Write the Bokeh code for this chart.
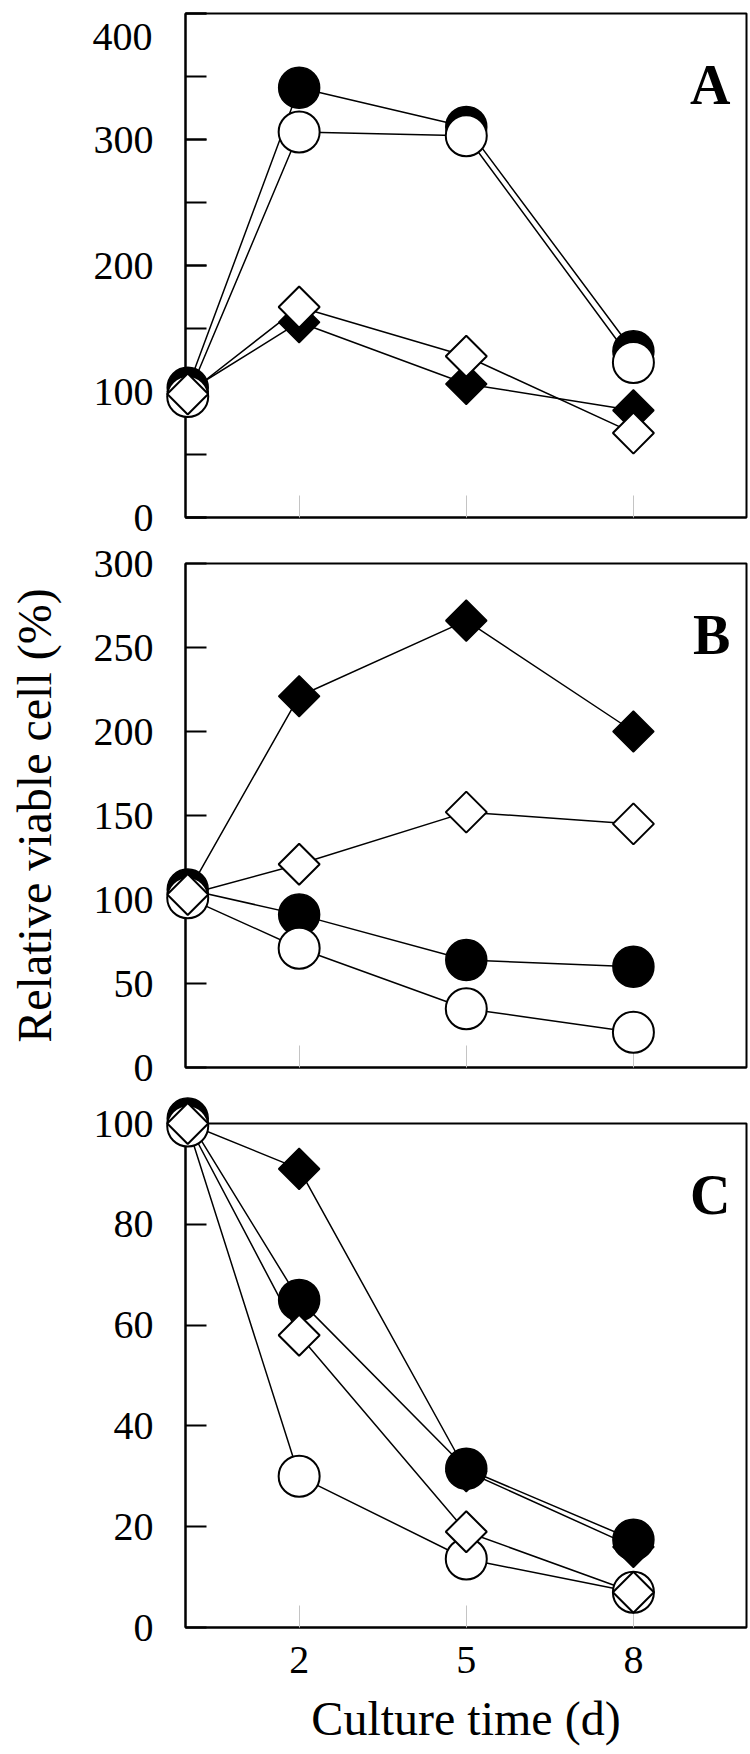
import math
from bokeh.plotting import figure
from bokeh.layouts import column
from bokeh.models import FixedTicker, SingleIntervalTicker, Label, Range1d
from bokeh.core.properties import value
from bokeh.embed import file_html
from bokeh.resources import INLINE

# ---------------- data ----------------
days = [0, 2, 5, 8]
x_ticks = [2, 5, 8]

# Panel A
a_filled_circle = [103, 341, 310, 132]
a_open_circle = [96, 306, 303, 123]
a_filled_diamond = [100, 155, 106, 85]
a_open_diamond = [98, 167, 128, 67]

# Panel B
b_filled_circle = [106, 91, 64, 60]
b_open_circle = [101, 71, 35, 21]
b_filled_diamond = [104, 221, 266, 200]
b_open_diamond = [103, 121, 152, 145]

# Panel C
c_filled_circle = [101, 65, 31.5, 17.4]
c_open_circle = [99.5, 30, 13.6, 7]
c_filled_diamond = [100, 91, 31, 16]
c_open_diamond = [100, 58, 19, 7]

y_label = "Relative viable cell (%)"
x_label = "Culture time (d)"

FONT = "Liberation Serif"
FRAME_H = 504
FRAME_W = 561
X_START, X_END = -0.04, 10.03


def make_panel(letter, fc, oc, fd, od, y_end, interval, minor, top, bottom,
               show_x_labels=False, show_y_title=False, top_label_drop=0):
    height = top + FRAME_H + bottom
    p = figure(width=748, height=height, output_backend="svg",
               toolbar_location=None, x_range=Range1d(X_START, X_END),
               y_range=Range1d(0, y_end),
               min_border_left=185, min_border_right=2,
               min_border_top=top, min_border_bottom=bottom)
    p.background_fill_color = "white"
    p.border_fill_color = "white"
    p.outline_line_color = "black"
    p.outline_line_width = 2
    p.xgrid.grid_line_color = None
    p.ygrid.grid_line_color = None

    # y axis
    ya = p.yaxis[0]
    ya.ticker = SingleIntervalTicker(interval=interval, num_minor_ticks=minor)
    ya.axis_line_width = 2
    ya.axis_line_color = "black"
    ya.major_tick_in = 21
    ya.major_tick_out = 0
    ya.major_tick_line_width = 2
    ya.minor_tick_in = 21
    ya.minor_tick_out = 0
    ya.minor_tick_line_width = 2
    ya.major_label_text_font = FONT
    ya.major_label_text_font_size = "40px"
    ya.major_label_text_color = "black"
    ya.major_label_standoff = 32
    if top_label_drop:
        # the top tick label sits a little lower than its tick (as in the original)
        ya.major_label_overrides = {y_end: ""}
        px_per_x = FRAME_W / (X_END - X_START)
        px_per_y = FRAME_H / y_end
        p.text(x=[X_START - 33 / px_per_x],
               y=[y_end - top_label_drop / px_per_y],
               text=[str(y_end)], text_font=value(FONT),
               text_font_size="40px", text_color="black",
               text_align="right", text_baseline="alphabetic",
               level="overlay")
    if show_y_title:
        ya.axis_label = y_label
        ya.axis_label_text_font = FONT
        ya.axis_label_text_font_size = "48px"
        ya.axis_label_text_font_style = "normal"
        ya.axis_label_text_color = "black"
        ya.axis_label_standoff = 30

    # x axis
    xa = p.xaxis[0]
    xa.ticker = FixedTicker(ticks=x_ticks, minor_ticks=[])
    xa.axis_line_width = 2
    xa.axis_line_color = "black"
    xa.major_tick_in = 22
    xa.major_tick_out = 0
    xa.major_tick_line_color = "#c4c4c4"
    xa.major_tick_line_width = 1
    xa.minor_tick_line_color = None
    if show_x_labels:
        xa.major_label_text_font = FONT
        xa.major_label_text_font_size = "40px"
        xa.major_label_text_color = "black"
        xa.major_label_standoff = 19
        xa.axis_label = x_label
        xa.axis_label_text_font = FONT
        xa.axis_label_text_font_size = "48px"
        xa.axis_label_text_font_style = "normal"
        xa.axis_label_text_color = "black"
        xa.axis_label_standoff = 16
    else:
        xa.major_label_overrides = {t: "" for t in x_ticks}
        xa.major_label_standoff = 0

    # lines first (under markers)
    for ys in (fd, fc, oc, od):
        p.line(days, ys, line_color="black", line_width=1.5)

    # markers: filled diamond, filled circle, open circle, open diamond
    p.scatter(days, fd, marker="square", angle=math.pi / 4, size=29,
              fill_color="black", line_color="black", line_width=1.5,
              level="overlay")
    p.scatter(days, fc, marker="circle", size=41,
              fill_color="black", line_color="black", line_width=1.5,
              level="overlay")
    p.scatter(days, oc, marker="circle", size=41,
              fill_color="white", line_color="black", line_width=2,
              level="overlay")
    p.scatter(days, od, marker="square", angle=math.pi / 4, size=29,
              fill_color="white", line_color="black", line_width=2,
              level="overlay")

    p.add_layout(Label(x=9.74, y=y_end * 0.859, text=letter,
                       text_font=FONT, text_font_style="bold",
                       text_font_size="56px", text_color="black",
                       text_align="right", text_baseline="alphabetic"))
    return p


pA = make_panel("A", a_filled_circle, a_open_circle, a_filled_diamond,
                a_open_diamond, 400, 100, 2, top=13, bottom=24,
                top_label_drop=23)
pB = make_panel("B", b_filled_circle, b_open_circle, b_filled_diamond,
                b_open_diamond, 300, 50, 0, top=22, bottom=24,
                show_y_title=True)
pC = make_panel("C", c_filled_circle, c_open_circle, c_filled_diamond,
                c_open_diamond, 100, 20, 0, top=32, bottom=123,
                show_x_labels=True)

layout = column(pA, pB, pC, spacing=0)
open("out.html", "w").write(file_html(layout, INLINE))
